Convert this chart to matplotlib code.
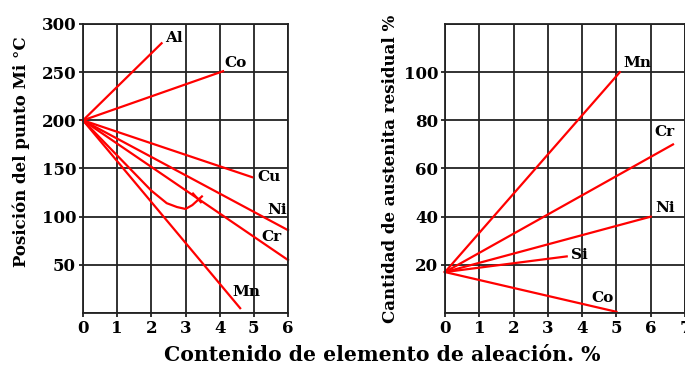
import matplotlib
matplotlib.use("Agg")
import matplotlib.pyplot as plt

plt.rcParams['font.family'] = ['DejaVu Serif']
plt.rcParams['font.weight'] = 'bold'

# Mi point position (deg C) vs alloying element content (%)
mi_curves = {
    'Al': ([0, 2.3], [200, 280]),
    'Co': ([0, 4.1], [200, 251]),
    'Cu': ([0, 4.95], [200, 141]),
    'Ni': ([0, 6.0], [200, 86]),
    'Cr': ([0, 6.0], [200, 55]),
    'Mn': ([0, 4.6], [200, 5]),
}
mi_label_pos = {'Al': (2.4, 285), 'Co': (4.13, 259), 'Cu': (5.09, 141),
                'Ni': (5.38, 107), 'Cr': (5.23, 79), 'Mn': (4.36, 22)}
# the curved one that dips and turns back
dip_x = [0, 2.0, 2.45, 2.75, 3.0, 3.2, 3.48]
dip_y = [200, 127, 114, 110, 108, 112, 121]
dip_mark_x = [3.22, 3.45]
dip_mark_y = [124, 115]

# residual austenite (%) vs alloying element content (%)
ra_curves = {
    'Mn': ([0, 5.1], [17, 100]),
    'Cr': ([0, 6.65], [17, 70]),
    'Ni': ([0, 6.0], [17, 40]),
    'Si': ([0, 3.55], [17, 23.5]),
    'Co': ([0, 5.0], [17, 0.5]),
}
ra_label_pos = {'Mn': (5.19, 104), 'Cr': (6.1, 75), 'Ni': (6.13, 43.5),
                'Si': (3.68, 24), 'Co': (4.26, 6.2)}

left_xticks = [0, 1, 2, 3, 4, 5, 6]
left_yticks = [50, 100, 150, 200, 250, 300]
right_xticks = [0, 1, 2, 3, 4, 5, 6, 7]
right_yticks = [20, 40, 60, 80, 100]

W, H = 685, 369
fig = plt.figure(figsize=(W / 100, H / 100), dpi=100)
ax1 = fig.add_axes([83 / W, 56 / H, 205 / W, 289 / H])
ax2 = fig.add_axes([445 / W, 56 / H, 240 / W, 289 / H])

red = '#ff0000'
lw = 1.6


def style(ax, xlim, ylim, xt, yt, minor_y):
    ax.set_xlim(*xlim)
    ax.set_ylim(*ylim)
    ax.set_xticks(xt)
    ax.set_yticks(yt)
    ax.set_yticks(minor_y, minor=True)
    ax.tick_params(which='major', length=3, width=1.3, color='#222222',
                   labelsize=12, pad=2)
    ax.tick_params(which='minor', length=0)
    ax.grid(True, which='both', color='#222222', linewidth=1.3)
    ax.set_axisbelow(True)
    for s in ax.spines.values():
        s.set_linewidth(1.3)
        s.set_color('#222222')


style(ax1, (0, 6), (0, 300), left_xticks, left_yticks, [0])
style(ax2, (0, 7), (0, 120), right_xticks, right_yticks, [0, 120])

for name, (xs, ys) in mi_curves.items():
    ax1.plot(xs, ys, color=red, lw=lw, clip_on=False)
    tx, ty = mi_label_pos[name]
    ax1.text(tx, ty, name, fontsize=11, fontweight='bold', va='center', ha='left')
ax1.plot(dip_x, dip_y, color=red, lw=lw)
ax1.plot(dip_mark_x, dip_mark_y, color=red, lw=lw)

for name, (xs, ys) in ra_curves.items():
    ax2.plot(xs, ys, color=red, lw=lw, clip_on=False)
    tx, ty = ra_label_pos[name]
    ax2.text(tx, ty, name, fontsize=11, fontweight='bold', va='center', ha='left')

ax1.set_ylabel('Posición del punto Mi °C', fontsize=12, fontweight='bold', labelpad=8)
ax1.yaxis.label.set_y(0.557)
ax2.set_ylabel('Cantidad de austenita residual %', fontsize=12, fontweight='bold', labelpad=3)
fig.text(382 / W, 1 - 355 / H, 'Contenido de elemento de aleación. %',
         fontsize=14.7, fontweight='bold', ha='center', va='center')

fig.savefig('out.png', dpi=100)
